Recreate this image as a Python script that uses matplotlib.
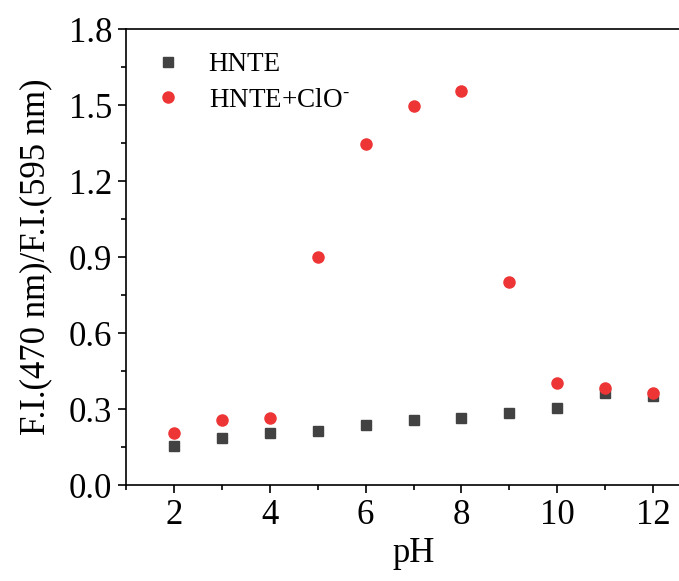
import matplotlib
matplotlib.use("Agg")
import matplotlib.pyplot as plt
from matplotlib.ticker import MultipleLocator, FormatStrFormatter

plt.rcParams['font.family'] = ['Liberation Serif', 'DejaVu Serif']
plt.rcParams['mathtext.fontset'] = 'custom'
plt.rcParams['mathtext.rm'] = 'Liberation Serif'
plt.rcParams['mathtext.it'] = 'Liberation Serif:italic'

ph = [2, 3, 4, 5, 6, 7, 8, 9, 10, 11, 12]
hnte = [0.155, 0.185, 0.205, 0.215, 0.235, 0.255, 0.265, 0.285, 0.305, 0.362, 0.352]
hnte_clo = [0.205, 0.255, 0.265, 0.90, 1.347, 1.497, 1.557, 0.80, 0.402, 0.383, 0.365]

fig = plt.figure(figsize=(6.79, 5.81), dpi=100)
ax = fig.add_axes([126/679, 96/581, 575/679, 456/581])

ax.plot(ph, hnte, linestyle='none', marker='s', markersize=7, color='#424242',
        label='HNTE')
ax.plot(ph, hnte_clo, linestyle='none', marker='o', markersize=8, color='#EE3535',
        label=r'HNTE+ClO$^{\text{-}}$')

ax.set_xlim(1, 13)
ax.set_ylim(0, 1.8)
ax.xaxis.set_major_locator(MultipleLocator(2))
ax.xaxis.set_minor_locator(MultipleLocator(1))
ax.yaxis.set_major_locator(MultipleLocator(0.3))
ax.yaxis.set_minor_locator(MultipleLocator(0.15))
ax.yaxis.set_major_formatter(FormatStrFormatter('%.1f'))

ax.tick_params(which='major', direction='out', length=6, width=1.2, labelsize=25, pad=4)
ax.tick_params(which='minor', direction='out', length=3.5, width=1.2)
for s in ax.spines.values():
    s.set_linewidth(1.2)

ax.set_xlabel('pH', fontsize=25, labelpad=4)
ax.set_ylabel('F.I.(470 nm)/F.I.(595 nm)', fontsize=25, labelpad=12)

ax.legend(loc='upper left', frameon=False, fontsize=19.5, handlelength=1.4,
          handletextpad=0.8, borderaxespad=0.45, labelspacing=0.4)

fig.savefig('out.png', dpi=100)
